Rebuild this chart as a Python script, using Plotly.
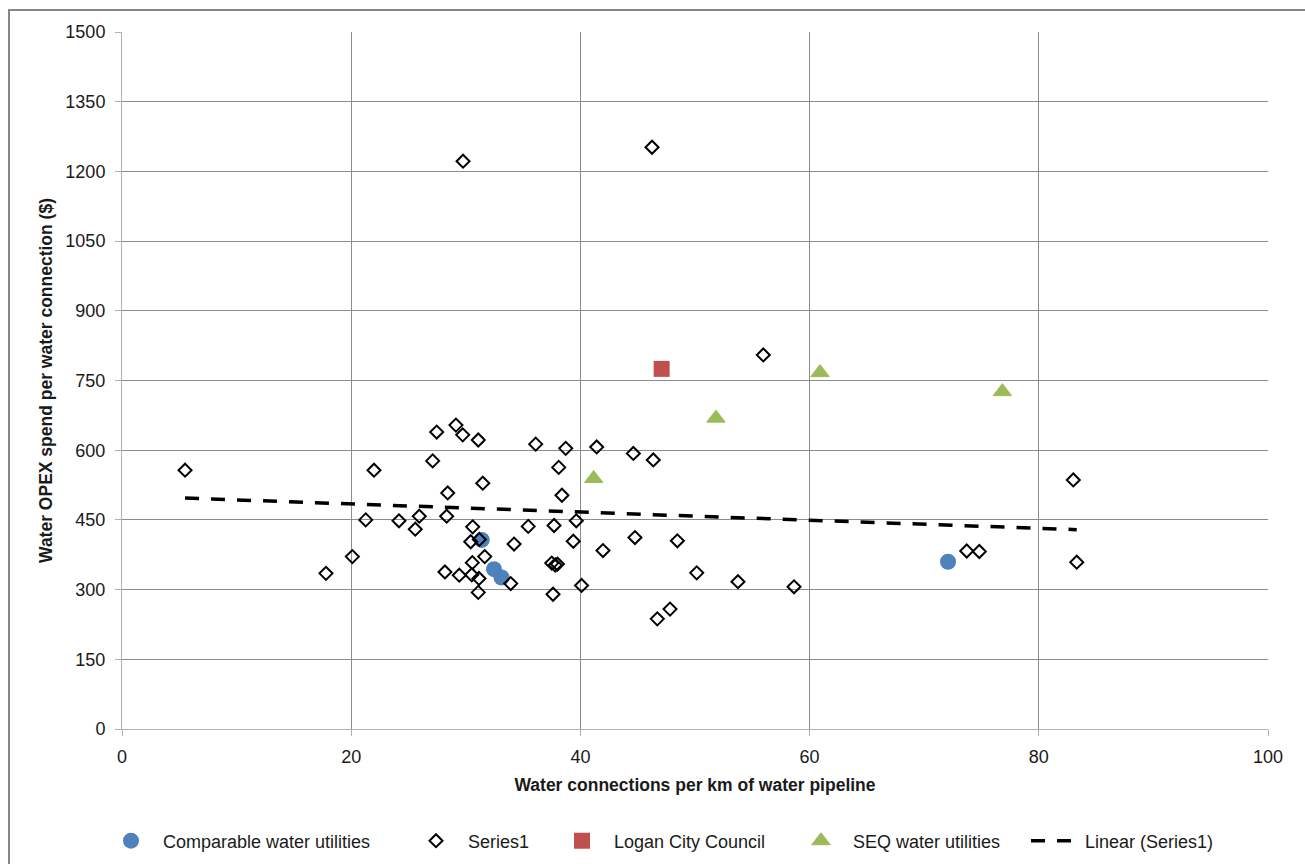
import plotly.graph_objects as go

# ---------------- data ----------------
series1_x = [5.50, 17.80, 20.10, 21.27, 21.99, 24.17, 25.59, 25.94, 27.11, 27.46,
             28.18, 28.42, 28.33, 29.14, 29.43, 29.76, 29.73, 30.60, 30.43, 30.57,
             30.52, 31.09, 31.18, 31.09, 31.15, 31.48, 31.65, 33.92, 34.21, 35.45,
             36.10, 37.61, 37.70, 37.50, 37.80, 38.00, 38.11, 38.39, 38.72, 39.38,
             39.64, 40.10, 41.42, 41.97, 44.62, 44.76, 46.36, 46.25, 46.71, 47.82,
             48.46, 50.15, 53.75, 55.96, 58.64, 73.71, 74.81, 83.01, 83.31]
series1_y = [557, 335, 371, 450, 557, 448, 430, 458, 577, 639,
             338, 508, 458, 654, 331, 1222, 633, 435, 403, 358,
             332, 622, 408, 294, 324, 529, 371, 313, 398, 436,
             613, 290, 438, 357, 353, 355, 563, 503, 604, 404,
             448, 309, 607, 384, 593, 412, 579, 1252, 237, 258,
             405, 336, 317, 805, 306, 383, 382, 536, 359]

comparable_x = [31.39, 32.46, 33.12, 72.08]
comparable_y = [407, 344, 326, 360]

logan_x = [47.09]
logan_y = [775]

seq_x = [41.16, 51.83, 60.91, 76.82]
seq_y = [539, 669, 767, 726]

trend_x = [5.50, 83.31]
trend_y = [497, 429]

x_ticks = [0, 20, 40, 60, 80, 100]
y_ticks = [0, 150, 300, 450, 600, 750, 900, 1050, 1200, 1350, 1500]

# ---------------- layout helpers ----------------
W, H = 1305, 864
L, R, T, B = 122, 1268, 32, 729
PW, PH = R - L, B - T


def px_x(p):
    return (p - L) / PW


def px_y(p):
    return (B - p) / PH


FONT = "Liberation Sans, Arial, sans-serif"
TXT = "#1a1a1a"
GRID = "#8c8c8c"

fig = go.Figure()

fig.add_trace(go.Scatter(
    x=comparable_x, y=comparable_y, mode="markers", name="Comparable water utilities",
    marker=dict(symbol="circle", size=16, color="#4F81BD", line=dict(width=0)),
    legend="legend2"))

fig.add_trace(go.Scatter(
    x=series1_x, y=series1_y, mode="markers", name="Series1",
    marker=dict(symbol="diamond-open", size=10, color="black", line=dict(width=2, color="black")),
    legend="legend3"))

fig.add_trace(go.Scatter(
    x=logan_x, y=logan_y, mode="markers", name="Logan City Council",
    marker=dict(symbol="square", size=16, color="#C0504D", line=dict(width=0)),
    legend="legend4"))

fig.add_trace(go.Scatter(
    x=seq_x, y=seq_y, mode="markers", name="SEQ water utilities",
    marker=dict(symbol="triangle-up", size=16, color="#9BBB59", line=dict(width=1, color="#9BBB59")),
    legend="legend5"))

fig.add_trace(go.Scatter(
    x=trend_x, y=trend_y, mode="lines", name="Linear (Series1)",
    line=dict(color="black", width=3.5, dash="14px,12px"),
    legend="legend6"))

leg_y = px_y(841)
leg_common = dict(orientation="h", yanchor="middle", y=leg_y, xanchor="left",
                  bgcolor="rgba(0,0,0,0)", borderwidth=0,
                  font=dict(family=FONT, size=18, color=TXT))

fig.update_layout(
    width=W, height=H,
    margin=dict(l=L, r=W - R, t=T, b=H - B, autoexpand=False),
    paper_bgcolor="white", plot_bgcolor="white",
    font=dict(family=FONT, size=18, color=TXT),
    legend2=dict(x=px_x(131 - 32), itemwidth=54, **leg_common),
    legend3=dict(x=px_x(436 - 32), itemwidth=54, **leg_common),
    legend4=dict(x=px_x(582 - 32), itemwidth=54, **leg_common),
    legend5=dict(x=px_x(821 - 32), itemwidth=54, **leg_common),
    legend6=dict(x=px_x(1056 - 30), itemwidth=49, **leg_common),
    xaxis=dict(
        range=[0, 100], tickvals=x_ticks, ticktext=[str(v) for v in x_ticks],
        showgrid=True, gridcolor=GRID, gridwidth=1,
        showline=True, linecolor="#b0b0b0", linewidth=1,
        zeroline=False, ticks="outside", ticklen=6, tickcolor="#b0b0b0",
        ticklabelstandoff=5,
        tickfont=dict(family=FONT, size=18, color=TXT),
        title=dict(text="<b>Water connections per km of water pipeline</b>",
                   font=dict(family=FONT, size=17.5, color=TXT), standoff=13),
    ),
    yaxis=dict(
        range=[0, 1500], tickvals=y_ticks, ticktext=[str(v) for v in y_ticks],
        showgrid=True, gridcolor=GRID, gridwidth=1,
        showline=True, linecolor="#b0b0b0", linewidth=1,
        zeroline=False, ticks="outside", ticklen=6, tickcolor="#b0b0b0",
        ticklabelstandoff=6,
        tickfont=dict(family=FONT, size=18, color=TXT),
        title=dict(text="<b>Water OPEX spend per water connection ($)</b>",
                   font=dict(family=FONT, size=17.5, color=TXT), standoff=8),
    ),
    shapes=[dict(type="rect", xref="paper", yref="paper",
                 x0=px_x(9), x1=px_x(1315), y0=px_y(880), y1=px_y(10),
                 line=dict(color="#868686", width=2), fillcolor="rgba(0,0,0,0)",
                 layer="below")],
)

fig.write_html("out.html")
